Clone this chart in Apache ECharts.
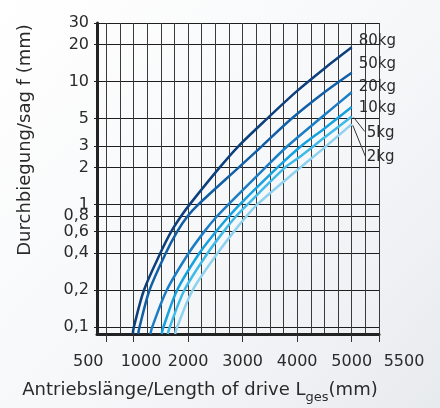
<!DOCTYPE html>
<html>
<head>
<meta charset="UTF-8">
<title>Durchbiegung</title>
<script src="https://cdn.jsdelivr.net/npm/echarts@6/dist/echarts.min.js"></script>
</head>
<body style="margin:0">
<div id="main" style="width:440px;height:408px;"></div>
<script type="text/javascript">
// Lasten und Kurven (x = Antriebslänge mm, y = Durchbiegung mm)
var loads = ['80kg', '50kg', '20kg', '10kg', '5kg', '2kg'];
var lineColors = ['#0d3f7c', '#115fa6', '#1b7dc4', '#16a2df', '#3ebbe8', '#8ed2ef'];

var curve80 = [[986, 0.088], [1005, 0.1], [1190, 0.2], [1490, 0.4], [1690, 0.6], [1870, 0.8], [2030, 1], [2580, 2], [2930, 3], [3450, 5], [4000, 8.4], [4500, 12.8], [5000, 19]];
var curve50 = [[1085, 0.088], [1109, 0.1], [1292, 0.2], [1590, 0.4], [1800, 0.6], [1990, 0.8], [2190, 1], [2930, 2], [3360, 3], [3900, 5], [4470, 8], [5000, 11.8]];
var curve20 = [[1310, 0.088], [1341, 0.1], [1608, 0.2], [2010, 0.4], [2297, 0.6], [2530, 0.8], [2740, 1], [3420, 2], [3830, 3], [4420, 5], [5000, 8.2]];
var curve10 = [[1516, 0.088], [1547, 0.1], [1798, 0.2], [2206, 0.4], [2511, 0.6], [2750, 0.8], [2950, 1], [3640, 2], [4080, 3], [4500, 4.15], [5000, 6.2]];
var curve5 = [[1626, 0.088], [1663, 0.1], [1931, 0.2], [2357, 0.4], [2650, 0.6], [2880, 0.8], [3090, 1], [3780, 2], [4000, 2.35], [4500, 3.5], [5000, 5.2]];
var curve2 = [[1761, 0.088], [1798, 0.1], [2083, 0.2], [2540, 0.4], [2840, 0.6], [3070, 0.8], [3270, 1], [4060, 2], [4500, 2.9], [5000, 4.5]];
var curves = [curve80, curve50, curve20, curve10, curve5, curve2];

// Achsenwerte
var xTicks = [500, 1000, 2000, 3000, 4000, 5000, 5500];
var xGrid = [500, 750, 1000, 1250, 1500, 1750, 2000, 2250, 2500, 2750, 3000, 3250, 3500, 3750, 4000, 4250, 4500, 4750, 5000, 5250, 5500];
var yTicks = [0.1, 0.2, 0.4, 0.6, 0.8, 1, 2, 3, 5, 10, 20, 30];

// Beschriftung rechts: Versatz zum Kurvenende
var labelOffsets = [[2, -6], [2, -9], [2, -5], [2, 1], [10, 17], [10, 33]];

var font = 'DejaVu Sans';
var myChart = echarts.init(document.getElementById('main'));

var series = [];
for (var i = 0; i < curves.length; i++) {
    series.push({
        name: loads[i],
        type: 'line',
        data: curves[i],
        xAxisIndex: 0,
        yAxisIndex: 0,
        smooth: 0.3,
        showSymbol: false,
        silent: true,
        animation: false,
        z: 5,
        lineStyle: { color: lineColors[i], width: 2.5 },
        endLabel: {
            show: true,
            formatter: '{a}',
            offset: labelOffsets[i],
            distance: 5,
            color: '#2a2a2a',
            fontFamily: font,
            fontSize: 15
        }
    });
}

var option = {
    backgroundColor: {
        type: 'linear', x: 0, y: 0, x2: 1, y2: 1,
        colorStops: [{ offset: 0, color: '#ffffff' }, { offset: 0.55, color: '#f6f7f9' }, { offset: 1, color: '#e8ebee' }]
    },
    animation: false,
    grid: { left: 97, right: 61, top: 23, bottom: 74 },
    xAxis: [{
        type: 'value',
        min: 330,
        max: 5500,
        axisLine: { show: true, lineStyle: { color: '#222', width: 3 } },
        axisTick: { show: true, length: 8, customValues: xTicks, lineStyle: { color: '#333', width: 1 } },
        axisLabel: {
            customValues: xTicks,
            showMinLabel: true,
            showMaxLabel: true,
            margin: 20,
            color: '#2a2a2a',
            fontFamily: font,
            fontSize: 16,
            formatter: function (v) {
                // 500 nach links, 1000 und 5500 nach rechts versetzt wie im Original
                if (v === 500) return '{l|500}';
                if (v === 1000) return '{r|1000}';
                if (v === 5500) return '{rr|5500}';
                return String(v);
            },
            rich: {
                l: { padding: [0, 36, 0, 0] },
                r: { padding: [0, 0, 0, 15] },
                rr: { padding: [0, 0, 0, 50] }
            }
        },
        splitLine: { show: false }
    }, {
        type: 'value',
        min: 330,
        max: 5500,
        position: 'bottom',
        axisLine: { show: false },
        axisTick: { show: false, customValues: xGrid },
        axisLabel: { show: false },
        splitLine: { show: true, lineStyle: { color: '#3a3a3a', width: 1 } }
    }],
    yAxis: {
        type: 'log',
        logBase: 10,
        min: 0.088,
        max: 30,
        axisLine: { show: true, lineStyle: { color: '#222', width: 3 } },
        axisTick: { show: true, length: 3, customValues: yTicks, lineStyle: { color: '#222' } },
        axisLabel: {
            customValues: yTicks,
            showMinLabel: true,
            showMaxLabel: true,
            margin: 8,
            color: '#2a2a2a',
            fontFamily: font,
            fontSize: 16,
            formatter: function (v) { return String(v).replace('.', ','); }
        },
        splitLine: { show: true, lineStyle: { color: '#1e1e1e', width: 1 } }
    },
    series: series
};
myChart.setOption(option);

// Hinweislinien für 5kg und 2kg, Achsentitel
var p5 = myChart.convertToPixel({ xAxisIndex: 0, yAxisIndex: 0 }, curve5[curve5.length - 1]);
var p2 = myChart.convertToPixel({ xAxisIndex: 0, yAxisIndex: 0 }, curve2[curve2.length - 1]);
myChart.setOption({
    graphic: [{
        type: 'polyline',
        shape: { points: [[p5[0] + 2, p5[1] + 1], [p5[0] + 13, p5[1] + 15]] },
        style: { stroke: '#333', lineWidth: 1, fill: null }
    }, {
        type: 'polyline',
        shape: { points: [[p2[0] + 1, p2[1] + 1], [p2[0] + 14, p2[1] + 33]] },
        style: { stroke: '#333', lineWidth: 1, fill: null }
    }, {
        type: 'text',
        x: 25,
        y: 140,
        rotation: Math.PI / 2,
        style: {
            text: 'Durchbiegung/sag f (mm)',
            fill: '#2a2a2a',
            font: '18px "DejaVu Sans"',
            align: 'center',
            verticalAlign: 'middle'
        }
    }, {
        type: 'text',
        x: 200,
        y: 392,
        style: {
            text: '{a|Antriebslänge/Length of drive L}{s|ges}{a|(mm)}',
            fill: '#2a2a2a',
            align: 'center',
            verticalAlign: 'middle',
            rich: {
                a: { fontFamily: font, fontSize: 18, lineHeight: 22, verticalAlign: 'top' },
                s: { fontFamily: font, fontSize: 13, lineHeight: 16, padding: [10, 0, 0, 0], verticalAlign: 'top' }
            }
        }
    }]
});
</script>
</body>
</html>
